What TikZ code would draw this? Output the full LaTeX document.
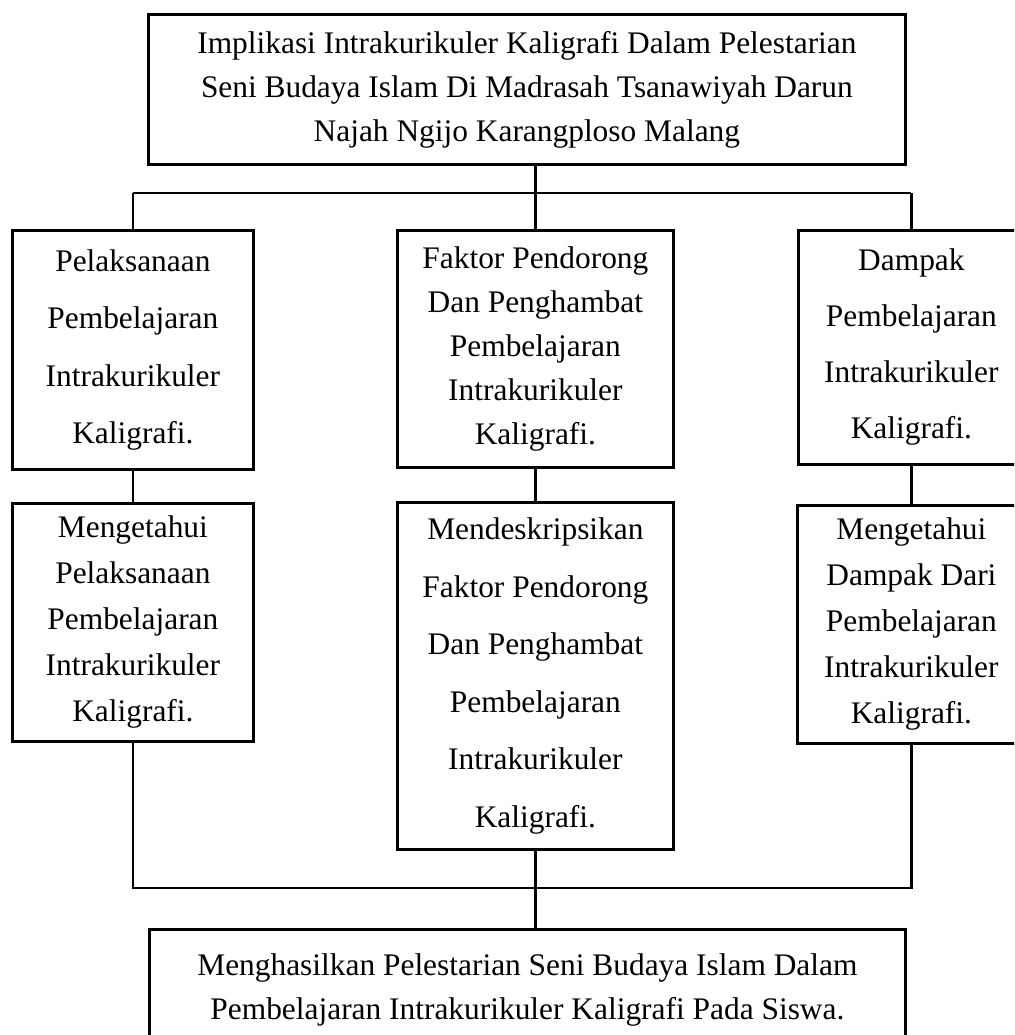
\documentclass[tikz,border=0pt]{standalone}
\usepackage{fontspec}
\setmainfont{Liberation Serif}
\begin{document}
\begin{tikzpicture}[x=1pt,y=1pt,
  box/.style={draw=black, line width=2.8pt, rectangle, inner sep=0pt, anchor=north west, align=center},
  conn/.style={draw=black, line width=2.8pt},
  fa/.style={font=\fontsize{31.4}{44}\selectfont},
  fb/.style={font=\fontsize{31.4}{46}\selectfont},
  fc/.style={font=\fontsize{31.4}{56}\selectfont},
  fd/.style={font=\fontsize{31.4}{57.5}\selectfont}]
\useasboundingbox (0,0) rectangle (1014,-1035);
\clip (0,0) rectangle (1014,-1035);
\fill[white] (0,0) rectangle (1014,-1035);
% top
\node[box, fa, minimum width=757, minimum height=150] (top) at (147,-13)
  {Implikasi Intrakurikuler Kaligrafi Dalam Pelestarian\\Seni Budaya Islam Di Madrasah Tsanawiyah Darun\\Najah Ngijo Karangploso Malang};
% row 1
\node[box, fd, minimum width=241, minimum height=239] (l1) at (11,-229)
  {Pelaksanaan\\Pembelajaran\\Intrakurikuler\\Kaligrafi.};
\node[box, fa, minimum width=276, minimum height=237] (m1) at (396,-229)
  {Faktor Pendorong\\Dan Penghambat\\Pembelajaran\\Intrakurikuler\\Kaligrafi.};
\node[box, fc, minimum width=226, minimum height=234] (r1) at (797,-229)
  {Dampak\\Pembelajaran\\Intrakurikuler\\Kaligrafi.};
% row 2
\node[box, fb, minimum width=241, minimum height=238] (l2) at (11,-502)
  {Mengetahui\\Pelaksanaan\\Pembelajaran\\Intrakurikuler\\Kaligrafi.};
\node[box, fd, minimum width=276, minimum height=347] (m2) at (396,-501)
  {Mendeskripsikan\\Faktor Pendorong\\Dan Penghambat\\Pembelajaran\\Intrakurikuler\\Kaligrafi.};
\node[box, fb, minimum width=228, minimum height=238] (r2) at (796,-504)
  {Mengetahui\\Dampak Dari\\Pembelajaran\\Intrakurikuler\\Kaligrafi.};
% bottom
\node[box, fa, minimum width=756, minimum height=122] (bot) at (148,-928)
  {Menghasilkan Pelestarian Seni Budaya Islam Dalam\\Pembelajaran Intrakurikuler Kaligrafi Pada Siswa.};
% connectors
\coordinate (busT) at (0,-193);
\coordinate (busB) at (0,-888);
\draw[conn] (top.south -| m1.north) -- (m1.north);
\draw[conn] (l1.north |- busT) -- (r1.north |- busT);
\draw[conn] (l1.north) -- (l1.north |- busT);
\draw[conn] (r1.north) -- (r1.north |- busT);
\draw[conn] (l1.south) -- (l2.north);
\draw[conn] (m1.south) -- (m2.north);
\draw[conn] (r1.south) -- (r2.north);
\draw[conn] (l2.south) -- (l2.south |- busB) -- (r2.south |- busB) -- (r2.south);
\draw[conn] (m2.south) -- (m2.south |- bot.north);
\end{tikzpicture}
\end{document}
